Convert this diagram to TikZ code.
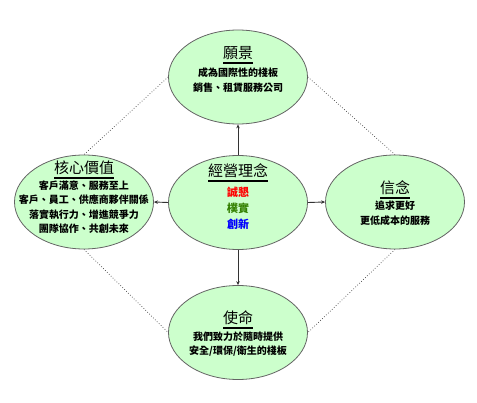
\documentclass[tikz,border=0pt]{standalone}
\usepackage{fontspec}
\newfontfamily\cjk{Noto Sans CJK TC}
\usetikzlibrary{shapes.geometric,arrows.meta}
\definecolor{ellfill}{RGB}{204,255,204}
\definecolor{ellline}{RGB}{100,100,100}
\definecolor{wgreen}{RGB}{51,128,0}
\tikzset{
  bubble/.style={ellipse,draw=ellline,line width=0.8pt,fill=ellfill,minimum width=139pt,minimum height=94pt,inner sep=0pt},
  title/.style={font=\cjk\fontsize{15}{17}\selectfont,inner sep=0pt},
  body/.style={font=\cjk\bfseries\fontsize{10}{15}\selectfont,align=center,inner sep=0pt},
  arr/.style={draw=black!80,line width=0.9pt,-{Stealth[length=4pt,width=3.5pt]}},
  dots/.style={draw=black!75,line width=0.7pt,dotted},
  uline/.style={draw=black,line width=1.4pt}
}
\begin{document}
\begin{tikzpicture}[x=1pt,y=-1pt]
\useasboundingbox[fill=white] (0,0) rectangle (477,403);
% ellipses
\node[bubble] (top) at (238,77) {};
\node[bubble] (ctr) at (238,202.5) {};
\node[bubble] (lft) at (84,202) {};
\node[bubble] (rgt) at (395,202) {};
\node[bubble] (bot) at (238,332.5) {};
% texts
\node[title] (topT) at (238,53) {願景};
\node[body] (topB) at (238,80.5) {成為國際性的棧板\\銷售、租賃服務公司};
\node[title] (lftT) at (84,168) {核心價值};
\node[body,font=\cjk\bfseries\fontsize{10}{14.5}\selectfont] (lftB) at (84,207) {客戶滿意、服務至上\\客戶、員工、供應商夥伴關係\\落實執行力、增進競爭力\\團隊協作、共創未來};
\node[title] (ctrT) at (238,171) {經營理念};
\node[body,font=\cjk\bfseries\fontsize{11}{16}\selectfont] (ctrB) at (238,208) {\textcolor{red}{誠懇}\\\textcolor{wgreen}{樸實}\\\textcolor{blue}{創新}};
\node[title] (rgtT) at (395,188) {信念};
\node[body] (rgtB) at (395,213.5) {追求更好\\更低成本的服務};
\node[title] (botT) at (238,318) {使命};
\node[body,font=\cjk\bfseries\fontsize{10}{14.5}\selectfont] (botB) at (238,344) {我們致力於隨時提供\\安全/環保/衛生的棧板};
% title underlines
\coordinate (u1a) at (223,63); \coordinate (u1b) at (253,63);
\coordinate (u2a) at (54,178); \coordinate (u2b) at (114,178);
\coordinate (u3a) at (208,181); \coordinate (u3b) at (268,181);
\coordinate (u4a) at (380,198); \coordinate (u4b) at (410,198);
\coordinate (u5a) at (223,328); \coordinate (u5b) at (253,328);
\draw[uline] (u1a) -- (u1b);
\draw[uline] (u2a) -- (u2b);
\draw[uline] (u3a) -- (u3b);
\draw[uline] (u4a) -- (u4b);
\draw[uline] (u5a) -- (u5b);
% arrows
\draw[arr] (ctr.north) -- (top.south);
\draw[arr] (ctr.south) -- (bot.north);
\draw[arr] (ctr.west) -- (lft.east);
\draw[arr] (ctr.east) -- (rgt.west);
% dotted links
\draw[dots] (top.west) -- (lft.north);
\draw[dots] (top.east) -- (rgt.north);
\draw[dots] (lft.south) -- (bot.west);
\draw[dots] (rgt.south) -- (bot.east);
\end{tikzpicture}
\end{document}
